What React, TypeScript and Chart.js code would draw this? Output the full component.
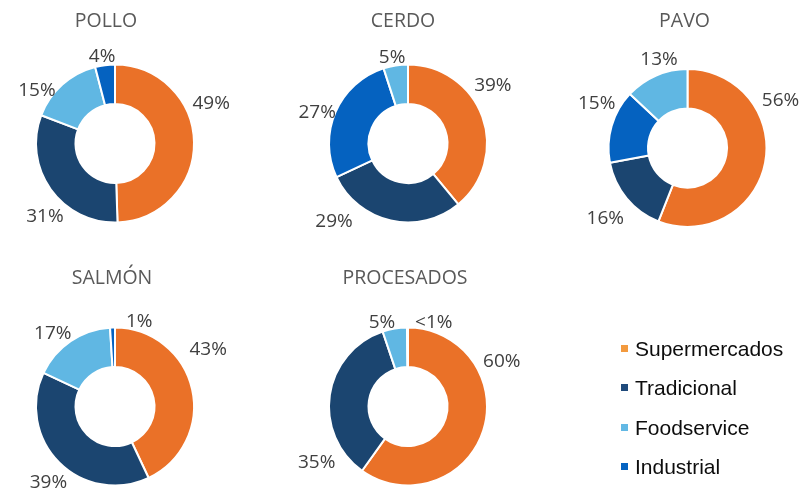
import React, { useEffect, useRef } from "react";
import { Chart, registerables } from "chart.js";

Chart.register(...registerables);

// ---------- data ----------
const categories = ["Supermercados", "Tradicional", "Foodservice", "Industrial"];

const chartTitles = ["POLLO", "CERDO", "PAVO", "SALMÓN", "PROCESADOS"];

// slice order as drawn (index into categories), values and printed labels
const polloOrder = [0, 1, 2, 3];
const polloValues = [49, 31, 15, 4];
const polloLabels = ["49%", "31%", "15%", "4%"];

const cerdoOrder = [0, 1, 3, 2];
const cerdoValues = [39, 29, 27, 5];
const cerdoLabels = ["39%", "29%", "27%", "5%"];

const pavoOrder = [0, 1, 3, 2];
const pavoValues = [56, 16, 15, 13];
const pavoLabels = ["56%", "16%", "15%", "13%"];

const salmonOrder = [0, 1, 2, 3];
const salmonValues = [43, 39, 17, 1];
const salmonLabels = ["43%", "39%", "17%", "1%"];

const procesadosOrder = [0, 1, 2, 3];
const procesadosValues = [60, 35, 5, 0.2];
const procesadosLabels = ["60%", "35%", "5%", "<1%"];

// ---------- styles / layout ----------
const W = 811;
const H = 490;
const categoryColors = ["#EA7128", "#1B4570", "#60B7E3", "#0562C0"];
const legendColors = ["#F39A3E", "#1F4A7B", "#62B8E4", "#0563C1"];

const centers = [
  [115, 143.5],
  [408, 143.5],
  [687.5, 148],
  [115, 406.5],
  [408, 406.5],
];
const visibleRadius = 78;
const titlePos = [
  [106, 26.7],
  [403, 26.7],
  [684.5, 26.7],
  [112, 284.3],
  [405, 284.3],
];
// label placement: angular shift from slice middle (deg) and distance beyond ring (px)
const labelShifts = [
  [-21.4, -10.9, -13.9, -1.2],
  [-14.4, 30.9, -4.6, -1.5],
  [-37.9, -1.1, 9.7, 5.5],
  [-18.7, -3.8, -6.2, 17.8],
  [-43.4, -39.9, -7.6, 17.4],
];
const labelExtras = [
  [26, 23.5, 16.5, 9.5],
  [24.6, 29.5, 18, 9.5],
  [26.5, 30.5, 23, 14.5],
  [31, 23, 18, 10],
  [26, 29, 9.5, 10],
];

const charts = [
  { order: polloOrder, values: polloValues, labels: polloLabels },
  { order: cerdoOrder, values: cerdoValues, labels: cerdoLabels },
  { order: pavoOrder, values: pavoValues, labels: pavoLabels },
  { order: salmonOrder, values: salmonValues, labels: salmonLabels },
  { order: procesadosOrder, values: procesadosValues, labels: procesadosLabels },
];

const legendBaselines = [356, 395.5, 435, 474.5];

export default function App() {
  const refs = useRef<(HTMLCanvasElement | null)[]>([]);

  useEffect(() => {
    const instances: Chart[] = [];
    charts.forEach((c, idx) => {
      const canvas = refs.current[idx];
      if (!canvas) return;
      const [cx, cy] = centers[idx];
      const half = visibleRadius + 2; // border (2) included
      const plugin = {
        id: "sliceLabels" + idx,
        afterDatasetsDraw(chart: any) {
          const ctx = chart.ctx as CanvasRenderingContext2D;
          const meta = chart.getDatasetMeta(0);
          ctx.save();
          ctx.font = '19px "Open Sans"';
          ctx.fillStyle = "#404040";
          ctx.textAlign = "center";
          ctx.textBaseline = "middle";
          meta.data.forEach((arc: any, i: number) => {
            const p = arc.getProps(["x", "y", "startAngle", "endAngle", "outerRadius"], true);
            const a = (p.startAngle + p.endAngle) / 2 + (labelShifts[idx][i] * Math.PI) / 180;
            const d = p.outerRadius - 1 + labelExtras[idx][i];
            ctx.fillText(c.labels[i], p.x + Math.cos(a) * d, p.y + Math.sin(a) * d);
          });
          ctx.font = '19.5px "Open Sans"';
          ctx.fillStyle = "#595959";
          ctx.textBaseline = "alphabetic";
          ctx.fillText(chartTitles[idx], titlePos[idx][0], titlePos[idx][1]);
          ctx.restore();
        },
      };
      const chart = new Chart(canvas, {
        type: "doughnut",
        data: {
          labels: c.order.map((k) => categories[k]),
          datasets: [
            {
              data: c.values,
              backgroundColor: c.order.map((k) => categoryColors[k]),
              borderColor: "#FFFFFF",
              borderWidth: 2,
            },
          ],
        },
        options: {
          responsive: false,
          animation: false,
          devicePixelRatio: 1,
          events: [],
          cutout: "50%",
          layout: {
            padding: {
              left: cx - half,
              top: cy - half,
              right: W - cx - half,
              bottom: H - cy - half,
            },
          },
          plugins: {
            legend: { display: false },
            tooltip: { enabled: false },
            title: { display: false },
          },
        },
        plugins: [plugin],
      });
      instances.push(chart);
    });
    return () => instances.forEach((ch) => ch.destroy());
  }, []);

  return (
    <div
      style={{
        position: "absolute",
        left: 0,
        top: 0,
        width: W,
        height: H,
        overflow: "hidden",
        background: "#FFFFFF",
      }}
    >
      {charts.map((_, i) => (
        <canvas
          key={i}
          ref={(el) => {
            refs.current[i] = el;
          }}
          width={W}
          height={H}
          style={{ position: "absolute", left: 0, top: 0, width: W, height: H }}
        />
      ))}
      {categories.map((name, i) => (
        <div
          key={name}
          style={{
            position: "absolute",
            left: 621,
            top: legendBaselines[i] - 19.3,
            height: 24,
            lineHeight: "24px",
            fontFamily: '"Liberation Sans", Arial, sans-serif',
            fontSize: 21,
            color: "#0D0D0D",
            whiteSpace: "nowrap",
          }}
        >
          <span
            style={{
              position: "absolute",
              left: 0,
              top: 8,
              width: 7,
              height: 7,
              background: legendColors[i],
            }}
          />
          <span style={{ position: "absolute", left: 14, top: 0 }}>{name}</span>
        </div>
      ))}
    </div>
  );
}
